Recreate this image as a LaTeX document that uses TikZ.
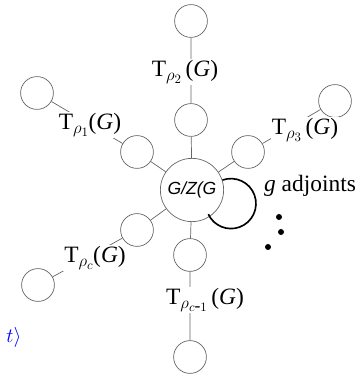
\documentclass[tikz,border=0pt]{standalone}
\usepackage{fontspec}
\setmainfont{Liberation Serif}
\newfontfamily\gzfont{Liberation Sans}
\newcommand{\tsub}[1]{\raisebox{-0.45ex}{\fontsize{15}{16}\selectfont$#1$}}
\begin{document}
\begin{tikzpicture}[x=0.03cm, y=0.03cm,
		rep/.style = {circle, draw=gray!80!black, line width=0.6pt, minimum size=28, inner sep=0pt},
		grp/.style = {circle, draw=gray!80!black, fill=white, line width=0.6pt, minimum size=54, inner sep=0pt},
		lbl/.style = {fill=white, inner sep=1pt, font=\fontsize{20}{22}\selectfont},
		leg/.style = {draw=gray!80!black, line width=0.6pt},
		adjloop/.style = {line width=1.4pt}]
			\useasboundingbox (0,0) rectangle (362,375);
			\node[grp] (gz) at (192,185) {\gzfont\itshape\fontsize{15}{16}\selectfont G/Z(G};
			
			\node[rep] (t2o) at (191,354) {};
			\node[rep] (t2i) at (191,255) {};
			\node[rep] (t1o) at (37,282) {};
			\node[rep] (t1i) at (137,223) {};
			\node[rep] (t3o) at (335,274) {};
			\node[rep] (t3i) at (248,223) {};
			\node[rep] (tco) at (38,90) {};
			\node[rep] (tci) at (137,145) {};
			\node[rep] (tbo) at (190,18) {};
			\node[rep] (tbi) at (190,120) {};
			
			\draw[leg] (t2o) -- (t2i) -- (gz);
			\draw[leg] (t1o) -- (t1i) -- (gz);
			\draw[leg] (t3o) -- (t3i) -- (gz);
			\draw[leg] (tco) -- (tci) -- (gz);
			\draw[leg] (tbo) -- (tbi) -- (gz);
			\draw[adjloop] (gz.18) arc[start angle=110, end angle=-155, radius=25];
			
			\node[lbl] (l2) at (185,303) {T\tsub{\rho_2}\,(\textit{G})};
			\node[lbl] (l1) at (90,250) {T\tsub{\rho_1}(\textit{G})};
			\node[lbl] (l3) at (305,245) {T\tsub{\rho_3}\,(\textit{G})};
			\node[lbl] (lc) at (95,117) {T\tsub{\rho_c}(\textit{G})};
			\node[lbl] (lb) at (205,75) {T\tsub{\rho_{c\mbox{-}1}}\,(\textit{G})};
			\node[lbl] (adj) at (310,189) {\textit{g} adjoints};
			
			\fill (279,158) circle (3);
			\fill (281,143) circle (3);
			\fill (268,128) circle (3);
			
			\node[text=blue, font=\fontsize{18}{20}\selectfont] (tk) at (14,38) {$t\rangle$};
		\end{tikzpicture}
\end{document}
